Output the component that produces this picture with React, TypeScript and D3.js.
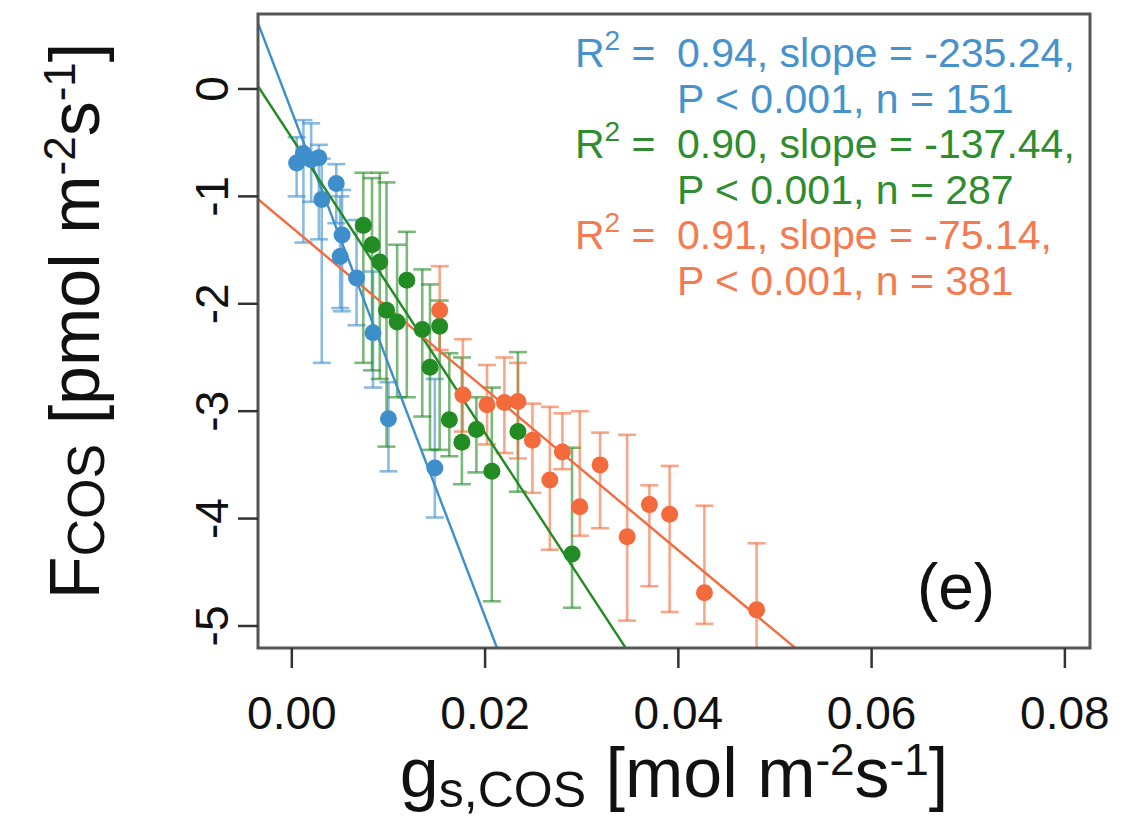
import React from 'react';
import * as d3 from 'd3';

// Blue series
const blueX = [0.0005, 0.0012, 0.0020, 0.0028, 0.0031, 0.0046, 0.0052, 0.0050, 0.0067, 0.0084, 0.0100, 0.0148];
const blueY = [-0.69, -0.60, -0.66, -0.64, -1.03, -0.88, -1.36, -1.56, -1.76, -2.27, -3.07, -3.53];
const blueHi = [-0.45, -0.29, -0.32, -0.52, -0.65, -0.70, -0.94, -1.00, -1.22, -1.70, -2.73, -2.70];
const blueLo = [-1.00, -1.43, -1.05, -1.40, -2.55, -1.25, -2.07, -2.04, -2.20, -2.78, -3.56, -3.99];

// Green series
const greenX = [0.0074, 0.0083, 0.0091, 0.0098, 0.0109, 0.0119, 0.0135, 0.0143, 0.0153, 0.0163, 0.0176, 0.0191, 0.0207, 0.0234, 0.0290];
const greenY = [-1.27, -1.45, -1.61, -2.06, -2.17, -1.78, -2.24, -2.59, -2.21, -3.08, -3.29, -3.17, -3.56, -3.19, -4.33];
const greenHi = [-0.78, -0.83, -0.78, -0.87, -1.45, -1.33, -1.68, -1.82, -1.97, -2.46, -2.50, -2.87, -2.78, -2.45, -3.34];
const greenLo = [-2.55, -2.62, -2.70, -3.33, -2.87, -2.87, -3.05, -3.36, -3.36, -3.42, -3.68, -3.57, -4.77, -3.75, -4.83];

// Orange series
const orangeX = [0.0153, 0.0177, 0.0202, 0.0220, 0.0234, 0.0249, 0.0267, 0.0280, 0.0298, 0.0319, 0.0347, 0.0370, 0.0391, 0.0427, 0.0481];
const orangeY = [-2.06, -2.85, -2.94, -2.92, -2.91, -3.27, -3.64, -3.38, -3.89, -3.50, -4.17, -3.87, -3.96, -4.69, -4.85];
const orangeHi = [-1.65, -2.33, -2.57, -2.50, -2.55, -2.93, -2.96, -3.02, -3.00, -3.20, -3.22, -3.69, -3.51, -3.88, -4.23];
const orangeLo = [-2.43, -3.19, -3.31, -3.39, -3.44, -3.76, -4.29, -3.54, -4.16, -4.09, -4.95, -4.63, -4.87, -4.98, -5.60];

// Regression fits
const fitSlopes = [-235.24, -137.44, -75.14];
const fitIntercepts = [-0.21, -0.456, -1.29];
const fitR2 = ['0.94', '0.90', '0.91'];
const fitN = ['151', '287', '381'];

const xTicks = [0, 0.02, 0.04, 0.06, 0.08];
const xTickLabels = ['0.00', '0.02', '0.04', '0.06', '0.08'];
const yTicks = [0, -1, -2, -3, -4, -5];

const COLORS = ['#3d8ecb', '#238b23', '#f36a3c'];
const TEXT_COLORS = ['#4592cc', '#2f8c2f', '#f47a50'];

const FONT = '"Liberation Sans", Arial, Helvetica, sans-serif';

const L = 258, R = 1090, T = 14, B = 648;

export default function App() {
  const x = d3.scaleLinear().domain([-0.0035, 0.0826]).range([L, R]);
  const y = d3.scaleLinear().domain([-5.205, 0.698]).range([B, T]);

  const series = [
    { xs: blueX, ys: blueY, hi: blueHi, lo: blueLo },
    { xs: greenX, ys: greenY, hi: greenHi, lo: greenLo },
    { xs: orangeX, ys: orangeY, hi: orangeHi, lo: orangeLo },
  ];

  const [x0, x1] = x.domain();
  const line = d3.line<[number, number]>().x(d => x(d[0])).y(d => y(d[1]));

  const cap = 9;

  return (
    <div style={{ position: 'absolute', left: 0, top: 0 }}>
      <svg width={1132} height={824} style={{ display: 'block', background: '#fff' }} fontFamily={FONT}>
        <defs>
          <clipPath id="plotclip">
            <rect x={L} y={T} width={R - L} height={B - T} />
          </clipPath>
        </defs>

        {/* error bars */}
        <g clipPath="url(#plotclip)">
          {series.map((s, si) => (
            <g key={'eb' + si} stroke={COLORS[si]} strokeOpacity={0.6} strokeWidth={2.6} fill="none">
              {s.xs.map((xv, i) => {
                const px = x(xv);
                return (
                  <g key={i}>
                    <line x1={px} x2={px} y1={y(s.hi[i])} y2={y(s.lo[i])} />
                    <line x1={px - cap} x2={px + cap} y1={y(s.hi[i])} y2={y(s.hi[i])} />
                    <line x1={px - cap} x2={px + cap} y1={y(s.lo[i])} y2={y(s.lo[i])} />
                  </g>
                );
              })}
            </g>
          ))}
        </g>

        {/* regression lines */}
        <g clipPath="url(#plotclip)">
          {fitSlopes.map((m, i) => (
            <path
              key={'fit' + i}
              d={line([[x0, fitIntercepts[i] + m * x0], [x1, fitIntercepts[i] + m * x1]]) || ''}
              stroke={COLORS[i]}
              strokeWidth={2.4}
              fill="none"
            />
          ))}
        </g>

        {/* points */}
        <g clipPath="url(#plotclip)">
          {series.map((s, si) => (
            <g key={'pt' + si} fill={COLORS[si]}>
              {s.xs.map((xv, i) => (
                <circle key={i} cx={x(xv)} cy={y(s.ys[i])} r={8.5} />
              ))}
            </g>
          ))}
        </g>

        {/* box */}
        <rect x={L} y={T} width={R - L} height={B - T} fill="none" stroke="#555" strokeWidth={3} />

        {/* x axis ticks */}
        <g>
          {xTicks.map((t, i) => (
            <g key={'xt' + i}>
              <line x1={x(t)} x2={x(t)} y1={B} y2={B + 20} stroke="#333" strokeWidth={2.5} />
              <text x={x(t)} y={729} textAnchor="middle" fontSize={46} fill="#111">
                {xTickLabels[i]}
              </text>
            </g>
          ))}
        </g>

        {/* y axis ticks */}
        <g>
          {yTicks.map((t, i) => (
            <g key={'yt' + i}>
              <line x1={L - 20} x2={L} y1={y(t)} y2={y(t)} stroke="#333" strokeWidth={2.5} />
              <text
                transform={`translate(228,${y(t)}) rotate(-90)`}
                textAnchor="middle"
                fontSize={46}
                fill="#111"
              >
                {String(t)}
              </text>
            </g>
          ))}
        </g>

        {/* axis titles */}
        <text x={(L + R) / 2} y={797} textAnchor="middle" fontSize={70} fill="#111">
          g<tspan fontSize={50} dy={10}>s,COS</tspan>
          <tspan dy={-10}> [mol m</tspan>
          <tspan fontSize={44} dy={-22}>-2</tspan>
          <tspan dy={22}>s</tspan>
          <tspan fontSize={44} dy={-22}>-1</tspan>
          <tspan dy={22}>]</tspan>
        </text>

        <text transform={`translate(99,${(T + B) / 2 - 10}) rotate(-90)`} textAnchor="middle" fontSize={70} fill="#111">
          F<tspan fontSize={52} dy={5}>COS</tspan>
          <tspan dy={-5}> [pmol m</tspan>
          <tspan fontSize={44} dy={-24}>-2</tspan>
          <tspan dy={24}>s</tspan>
          <tspan fontSize={44} dy={-24}>-1</tspan>
          <tspan dy={24}>]</tspan>
        </text>

        {/* legend text */}
        {fitSlopes.map((m, i) => {
          const base = 67 + i * 2 * 45.6;
          return (
            <g key={'lg' + i} fill={TEXT_COLORS[i]} fontSize={41}>
              <text x={575} y={base}>
                R<tspan fontSize={28} dy={-17}>2</tspan>
                <tspan dy={17}> =</tspan>
              </text>
              <text x={677} y={base}>{`${fitR2[i]}, slope = ${m.toFixed(2)},`}</text>
              <text x={677} y={base + 45.6}>{`P < 0.001, n = ${fitN[i]}`}</text>
            </g>
          );
        })}

        {/* panel label */}
        <text x={956} y={609} textAnchor="middle" fontSize={64} fill="#111">(e)</text>
      </svg>
    </div>
  );
}
